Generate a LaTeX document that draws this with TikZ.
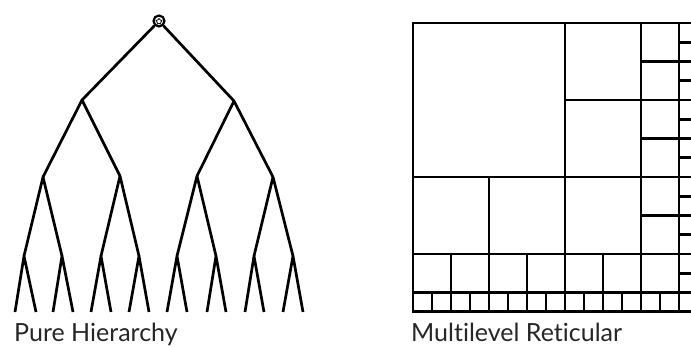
\documentclass[tikz,border=0pt]{standalone}
\usepackage{fontspec}
\setmainfont[Ligatures=NoCommon]{Lato}
\usetikzlibrary{shapes.geometric}
\begin{document}
\begin{tikzpicture}[x=1pt,y=-1pt,
  edge/.style={line width=2.7pt,line join=round},
  gridline/.style={line width=2.8pt,line cap=rect},
  caption/.style={anchor=base west,inner sep=0pt,font=\fontsize{25}{30}\selectfont,text=black!85}]
\useasboundingbox (0,0) rectangle (691,347);
% ---------- Pure hierarchy ----------
\node[circle,draw,line width=2.2pt,fill=white,minimum size=11pt,inner sep=0pt] (root) at (159,21) {};
\node[star,star points=5,draw,line width=0.8pt,minimum size=6pt,inner sep=0pt] (rootstar) at (159,21.5) {};
\coordinate (a1) at (82,100);
\coordinate (a2) at (234,101);
\coordinate (b1) at (43,177);
\coordinate (b2) at (120,176);
\coordinate (b3) at (197,176);
\coordinate (b4) at (273,177);
\foreach \i/\x in {1/24,2/62,3/101,4/139,5/177,6/216,7/254,8/293}
  \coordinate (c\i) at (\x,256);
\foreach \i/\x in {1/15,2/36,3/53,4/73,5/91,6/111,7/129,8/149,9/167,10/187,11/207,12/226,13/245,14/264,15/283,16/303}
  \coordinate (d\i) at (\x,312);
\draw[edge] (a1) -- (root) -- (a2);
\draw[edge] (b1) -- (a1) -- (b2);
\draw[edge] (b3) -- (a2) -- (b4);
\draw[edge] (c1) -- (b1) -- (c2);
\draw[edge] (c3) -- (b2) -- (c4);
\draw[edge] (c5) -- (b3) -- (c6);
\draw[edge] (c7) -- (b4) -- (c8);
\foreach \i [evaluate=\i as \l using int(2*\i-1), evaluate=\i as \r using int(2*\i)] in {1,...,8}
  \draw[edge] (d\l) -- (c\i) -- (d\r);
\node[caption] (lab1) at (14,342) {Pure Hierarchy};
% ---------- Multilevel reticular ----------
\def\gx#1{413+19*#1}
\def\gy#1{23+19.25*#1}
% outer frame (right side runs past the edge)
\draw[gridline] (691,{\gy{0}}) -- ({\gx{0}},{\gy{0}}) -- ({\gx{0}},{\gy{15}}) -- (691,{\gy{15}});
% full-height verticals
\foreach \k in {8,12,14}
  \draw[gridline] ({\gx{\k}},{\gy{0}}) -- ({\gx{\k}},{\gy{15}});
\draw[gridline] ({\gx{4}},{\gy{8}}) -- ({\gx{4}},{\gy{15}});
\foreach \k in {2,6,10}
  \draw[gridline] ({\gx{\k}},{\gy{12}}) -- ({\gx{\k}},{\gy{15}});
\foreach \k in {1,3,...,13}
  \draw[gridline] ({\gx{\k}},{\gy{14}}) -- ({\gx{\k}},{\gy{15}});
% horizontals
\foreach \k in {8,12,14}
  \draw[gridline] ({\gx{0}},{\gy{\k}}) -- (691,{\gy{\k}});
\draw[gridline] ({\gx{8}},{\gy{4}}) -- (691,{\gy{4}});
\foreach \k in {2,6,10}
  \draw[gridline] ({\gx{12}},{\gy{\k}}) -- (691,{\gy{\k}});
\foreach \k in {1,3,...,13}
  \draw[gridline] ({\gx{14}},{\gy{\k}}) -- (691,{\gy{\k}});
\node[caption] (lab2) at (411,342) {Multilevel Reticular};
\end{tikzpicture}
\end{document}
